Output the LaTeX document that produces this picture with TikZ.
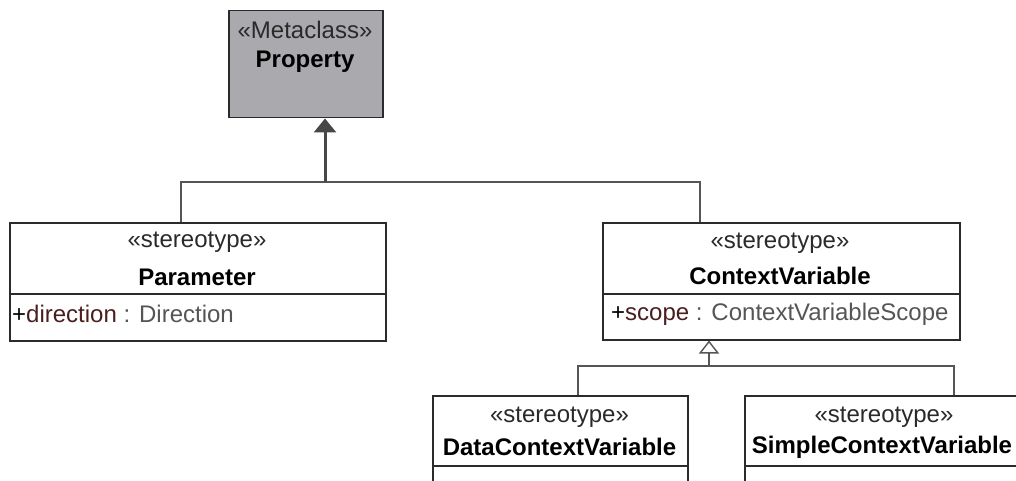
\documentclass[tikz,border=0pt]{standalone}
\usepackage{fontspec}
\setmainfont{Liberation Sans}
\usetikzlibrary{arrows.meta}
\definecolor{boxline}{HTML}{2B2B2B}
\definecolor{connline}{HTML}{555555}
\definecolor{metafill}{HTML}{A9A9AE}
\definecolor{attrname}{HTML}{4A1E1E}
\definecolor{attrtype}{HTML}{555555}
\definecolor{stereocol}{HTML}{2A2A2A}
\tikzset{
  umlbox/.style={draw=boxline, line width=1.5pt, inner sep=0pt, anchor=north west},
  divider/.style={draw=boxline, line width=1.5pt},
  conn/.style={draw=connline, line width=1.4pt},
  genthick/.style={draw=black!72, line width=3pt, -{Triangle[width=22pt,length=14pt]}},
  genopen/.style={draw=connline, line width=1.4pt, -{Triangle[open,width=20pt,length=13pt,fill=white]}},
  stereo/.style={font=\fontsize{24}{27}\selectfont, text=stereocol, inner sep=0pt},
  cname/.style={font=\fontsize{24}{27}\selectfont\bfseries, text=black, inner sep=0pt},
  attr/.style={font=\fontsize{24}{27}\selectfont, anchor=west, inner sep=0pt},
}
\begin{document}
\begin{tikzpicture}[x=1pt,y=-1pt]
\useasboundingbox (0,0) rectangle (1016,481);
\clip (0,0) rectangle (1016,481);
\fill[white] (0,0) rectangle (1016,481);

% Property metaclass
\node[umlbox, fill=metafill, minimum width=154pt, minimum height=107pt] (prop) at (228,10) {};
\node[stereo] (propst) at (305,30) {«Metaclass»};
\node[cname] (propnm) at (305,62) {Property};

% Parameter
\node[umlbox, fill=white, minimum width=376pt, minimum height=118pt] (param) at (9,222) {};
\draw[divider] (param.west |- 0,294) -- (param.east |- 0,294);
\node[stereo] (paramst) at (197,242) {«stereotype»};
\node[cname] (paramnm) at (197,277) {Parameter};
\node[attr] (paramat) at (12,314) {+\textcolor{attrname}{direction}~\textcolor{attrtype}{: Direction}};

% ContextVariable
\node[umlbox, fill=white, minimum width=357pt, minimum height=117pt] (ctx) at (602,222) {};
\draw[divider] (ctx.west |- 0,294) -- (ctx.east |- 0,294);
\node[stereo] (ctxst) at (780,243) {«stereotype»};
\node[cname] (ctxnm) at (780,276) {ContextVariable};
\node[attr] (ctxat) at (611,314) {+\textcolor{attrname}{scope}~\textcolor{attrtype}{: ContextVariableScope}};

% DataContextVariable
\node[umlbox, fill=white, minimum width=255pt, minimum height=110pt] (data) at (432,395) {};
\draw[divider] (data.west |- 0,466) -- (data.east |- 0,466);
\node[stereo] (datast) at (559.5,417) {«stereotype»};
\node[cname] (datanm) at (559.5,447) {DataContextVariable};

% SimpleContextVariable
\node[umlbox, fill=white, minimum width=288pt, minimum height=110pt] (simple) at (744,395) {};
\draw[divider] (simple.west |- 0,466) -- (simple.east |- 0,466);
\node[stereo] (simplest) at (884,417) {«stereotype»};
\node[cname] (simplenm) at (882,447) {SimpleContextVariable};

% upper generalization tree
\coordinate (hL) at (181,182);
\coordinate (hR) at (700,182);
\coordinate (hM) at (325,182);
\draw[conn] (param.north -| hL) -- (hL) -- (hR) -- (ctx.north -| hR);
\draw[genthick] (hM) -- (prop.south -| hM);

% lower generalization tree
\coordinate (gL) at (578,366);
\coordinate (gR) at (954,366);
\coordinate (gM) at (709,366);
\draw[conn] (data.north -| gL) -- (gL) -- (gR) -- (simple.north -| gR);
\draw[genopen] (gM) -- (ctx.south -| gM);
\end{tikzpicture}
\end{document}
